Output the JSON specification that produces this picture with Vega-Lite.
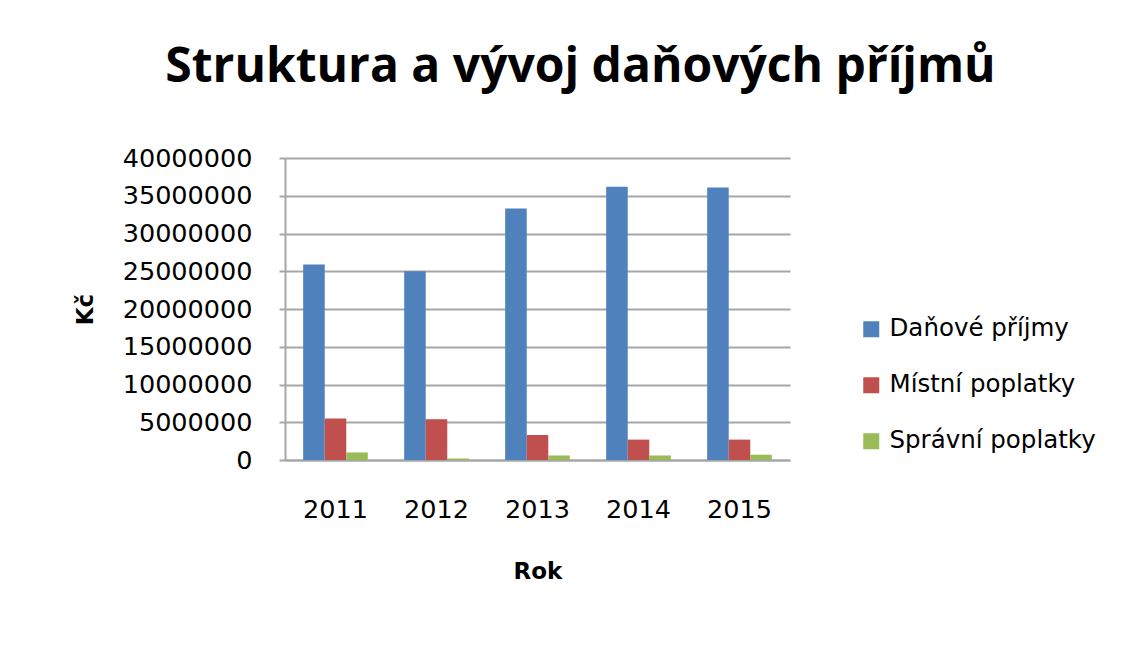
{
  "$schema": "https://vega.github.io/schema/vega-lite/v6.json",
  "autosize": "none",
  "width": 505,
  "height": 302,
  "padding": {"left": 285, "top": 158, "right": 334, "bottom": 199},
  "background": "white",
  "title": {
    "text": "Struktura a vývoj daňových příjmů",
    "font": "Open Sans",
    "fontSize": 48,
    "fontWeight": "bold",
    "color": "#000000",
    "anchor": "middle",
    "baseline": "alphabetic",
    "dx": 43,
    "offset": 16
  },
  "data": {
    "values": [
      {"rok": "2011", "typ": "Daňové příjmy", "kc": 25900000},
      {"rok": "2011", "typ": "Místní poplatky", "kc": 5500000},
      {"rok": "2011", "typ": "Správní poplatky", "kc": 1000000},
      {"rok": "2012", "typ": "Daňové příjmy", "kc": 25000000},
      {"rok": "2012", "typ": "Místní poplatky", "kc": 5400000},
      {"rok": "2012", "typ": "Správní poplatky", "kc": 200000},
      {"rok": "2013", "typ": "Daňové příjmy", "kc": 33300000},
      {"rok": "2013", "typ": "Místní poplatky", "kc": 3300000},
      {"rok": "2013", "typ": "Správní poplatky", "kc": 600000},
      {"rok": "2014", "typ": "Daňové příjmy", "kc": 36200000},
      {"rok": "2014", "typ": "Místní poplatky", "kc": 2700000},
      {"rok": "2014", "typ": "Správní poplatky", "kc": 600000},
      {"rok": "2015", "typ": "Daňové příjmy", "kc": 36100000},
      {"rok": "2015", "typ": "Místní poplatky", "kc": 2700000},
      {"rok": "2015", "typ": "Správní poplatky", "kc": 700000}
    ]
  },
  "mark": {"type": "bar", "stroke": null},
  "encoding": {
    "x": {
      "field": "rok",
      "type": "nominal",
      "title": "Rok",
      "scale": {"paddingInner": 0.36, "paddingOuter": 0.18},
      "axis": {
        "labelAngle": 0,
        "labelFont": "DejaVu Sans",
        "labelFontSize": 25.5,
        "labelColor": "#000000",
        "labelPadding": 37,
        "ticks": false,
        "domainColor": "#a6a6a6",
        "domainWidth": 2,
        "titleFont": "DejaVu Sans",
        "titleFontSize": 23,
        "titleFontWeight": "bold",
        "titleColor": "#000000",
        "titlePadding": 38
      }
    },
    "xOffset": {"field": "typ", "type": "nominal", "sort": ["Daňové příjmy", "Místní poplatky", "Správní poplatky"]},
    "y": {
      "field": "kc",
      "type": "quantitative",
      "title": "Kč",
      "scale": {"domain": [0, 40000000], "nice": false},
      "axis": {
        "values": [0, 5000000, 10000000, 15000000, 20000000, 25000000, 30000000, 35000000, 40000000],
        "format": "d",
        "labelOverlap": false,
        "labelFont": "DejaVu Sans",
        "labelFontSize": 25.5,
        "labelColor": "#000000",
        "labelPadding": 27,
        "ticks": true,
        "tickColor": "#a6a6a6",
        "tickWidth": 2,
        "tickSize": 6,
        "domainColor": "#a6a6a6",
        "domainWidth": 2,
        "grid": true,
        "gridColor": "#a6a6a6",
        "gridWidth": 2,
        "titleFont": "DejaVu Sans",
        "titleFontSize": 23,
        "titleFontWeight": "bold",
        "titleColor": "#000000",
        "titlePadding": 25
      }
    },
    "color": {
      "field": "typ",
      "type": "nominal",
      "sort": ["Daňové příjmy", "Místní poplatky", "Správní poplatky"],
      "scale": {
        "domain": ["Daňové příjmy", "Místní poplatky", "Správní poplatky"],
        "range": ["#4F81BD", "#C0504D", "#9BBB59"]
      },
      "legend": {
        "title": null,
        "orient": "none",
        "legendX": 574,
        "legendY": 159,
        "symbolType": "square",
        "symbolSize": 256,
        "symbolStrokeWidth": 0,
        "labelFont": "DejaVu Sans",
        "labelFontSize": 24.5,
        "labelLimit": 300,
        "labelColor": "#000000",
        "labelOffset": 6,
        "rowPadding": 31
      }
    }
  },
  "config": {"view": {"stroke": null}}
}
